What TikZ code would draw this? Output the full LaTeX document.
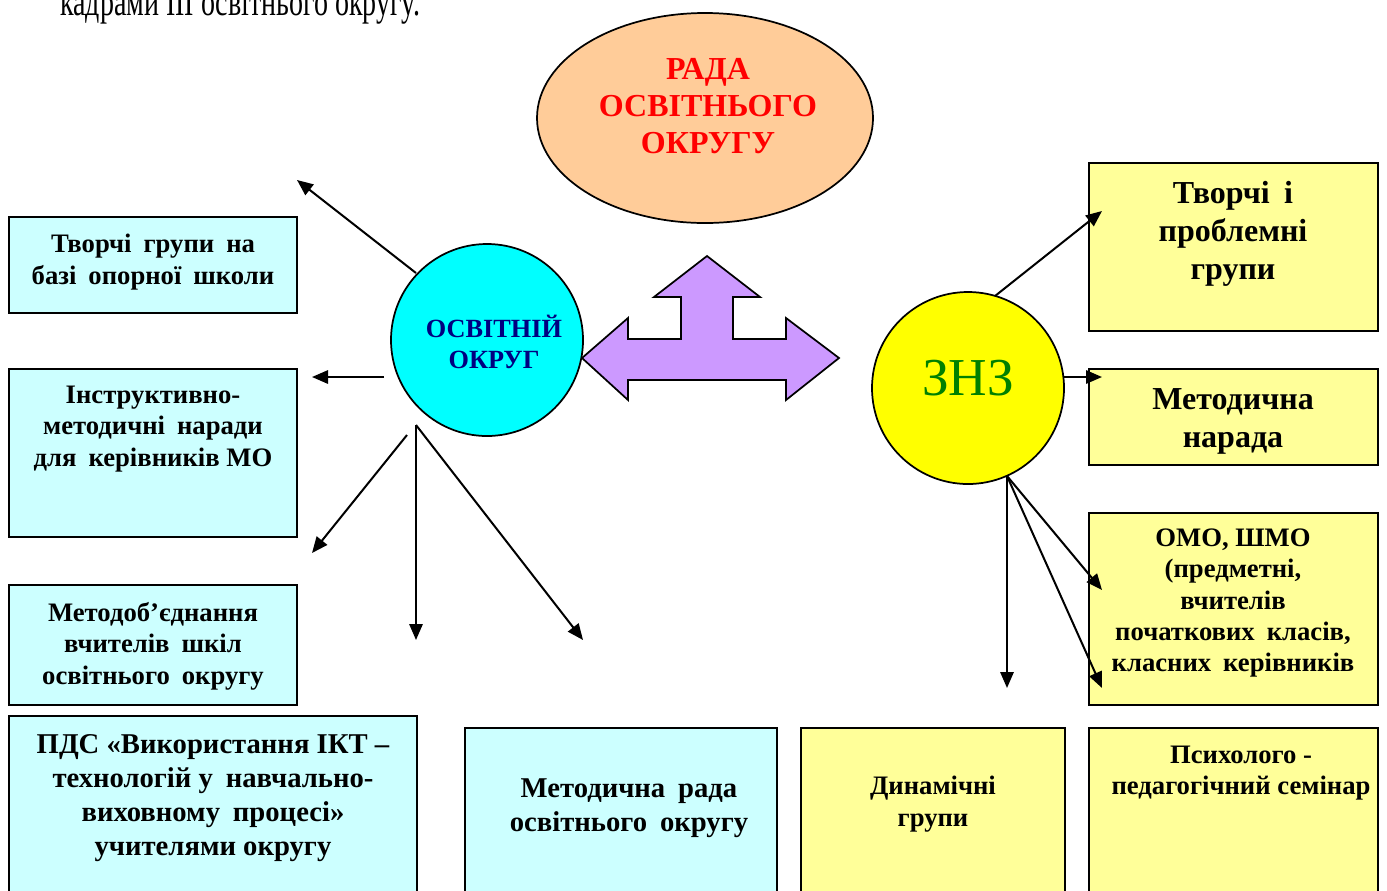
\documentclass[tikz,border=0pt]{standalone}
\usepackage{fontspec}
\setmainfont{Liberation Serif}
\usetikzlibrary{arrows.meta,shapes.geometric}
\definecolor{peach}{HTML}{FFCC99}
\definecolor{cyanc}{HTML}{00FFFF}
\definecolor{lblue}{HTML}{CCFFFF}
\definecolor{lyel}{HTML}{FFFF99}
\definecolor{yelc}{HTML}{FFFF00}
\definecolor{purp}{HTML}{CC99FF}
\definecolor{navyc}{HTML}{000080}
\definecolor{greenc}{HTML}{008000}
\newcommand{\gp}{\hspace{0.45em}}
\begin{document}
\begin{tikzpicture}[x=0.75pt,y=-0.75pt,
  bluebox/.style={draw=black,line width=1.3pt,fill=lblue,inner sep=0pt},
  yelbox/.style={draw=black,line width=1.3pt,fill=lyel,inner sep=0pt},
  txt/.style={align=center,font=\bfseries\fontsize{20}{23.5}\selectfont,inner sep=0pt},
  midtxt/.style={align=center,font=\bfseries\fontsize{21.5}{25.5}\selectfont,inner sep=0pt},
  bigtxt/.style={align=center,font=\bfseries\fontsize{24}{28.5}\selectfont,inner sep=0pt},
  conn/.style={line width=1.5pt,-{Triangle[length=12pt,width=10pt]}}]
\useasboundingbox (0,0) rectangle (1387,890);
\clip (0,0) rectangle (1387,890);
\fill[white] (0,0) rectangle (1387,890);

% top text
\node[anchor=base west,inner sep=0pt,font=\fontsize{21}{24}\selectfont] (top) at (60,15) {\scalebox{1}[1.45]{кадрами ІІІ освітнього округу.}};

% ellipse
\node[ellipse,draw=black,line width=1.3pt,fill=peach,minimum width=252pt,minimum height=157.5pt,inner sep=0pt] (rada) at (705,118) {};
\node[align=center,text=red,font=\bfseries\fontsize{24}{27.5}\selectfont,inner sep=0pt] (radat) at (708,106) {РАДА\\ОСВІТНЬОГО\\ОКРУГУ};

% purple arrow
\draw[line width=1.3pt,fill=purp,line join=miter]
 (582,358) -- (628,318) -- (628,339) -- (681,339) -- (681,297) -- (654,297) -- (707,256)
 -- (760,297) -- (733,297) -- (733,339) -- (786,339) -- (786,318) -- (839,358)
 -- (786,400) -- (786,380) -- (628,380) -- (628,400) -- cycle;

% circles
\node[circle,draw=black,line width=1.3pt,fill=cyanc,minimum size=144pt,inner sep=0pt] (ok) at (487,340) {};
\node[align=center,text=navyc,font=\bfseries\fontsize{19.7}{23.5}\selectfont,inner sep=0pt] (okt) at (494,342) {ОСВІТНІЙ\\ОКРУГ};
\node[circle,draw=black,line width=1.3pt,fill=yelc,minimum size=144pt,inner sep=0pt] (znz) at (968,388) {};
\node[text=greenc,font=\fontsize{40}{44}\selectfont,inner sep=0pt] (znzt) at (968,378) {ЗНЗ};

% blue boxes
\node[bluebox,minimum width=216pt,minimum height=72pt] (b1) at (153,265) {};
\node[txt] (t1) at (153,262) {Творчі\gp групи\gp на\\базі\gp опорної\gp школи};
\node[bluebox,minimum width=216pt,minimum height=126pt] (b2) at (153,453) {};
\node[txt] (t2) at (153,429) {Інструктивно-\\методичні\gp наради\\для\gp керівників МО};
\node[bluebox,minimum width=216pt,minimum height=90pt] (b3) at (153,645) {};
\node[txt] (t3) at (153,646) {Методоб’єднання\\вчителів\gp шкіл\\освітнього\gp округу};
\node[bluebox,minimum width=306pt,minimum height=138pt] (b4) at (213,808) {};
\node[midtxt] (t4) at (213,798) {ПДС «Використання ІКТ –\\технологій у\gp навчально-\\виховному\gp процесі»\\учителями округу};
\node[bluebox,minimum width=234pt,minimum height=129pt] (b5) at (621,814) {};
\node[midtxt] (t5) at (629,808) {Методична\gp рада\\освітнього\gp округу};

% yellow boxes
\node[yelbox,minimum width=216.75pt,minimum height=126pt] (y1) at (1233.5,247) {};
\node[bigtxt] (u1) at (1233,234) {Творчі\gp і\\проблемні\\групи};
\node[yelbox,minimum width=216.75pt,minimum height=72pt] (y2) at (1233.5,417) {};
\node[bigtxt] (u2) at (1233,421) {Методична\\нарада};
\node[yelbox,minimum width=216.75pt,minimum height=144pt] (y3) at (1233.5,609) {};
\node[txt] (u3) at (1233,603) {ОМО, ШМО\\(предметні,\\вчителів\\початкових\gp класів,\\класних\gp керівників};
\node[yelbox,minimum width=198pt,minimum height=129pt] (y4) at (933,814) {};
\node[txt] (u4) at (933,804) {Динамічні\\групи};
\node[yelbox,minimum width=216.75pt,minimum height=129pt] (y5) at (1233.5,814) {};
\node[txt] (u5) at (1241,773) {Психолого -\\педагогічний семінар};

% free ends / starts
\coordinate (s1) at (416,273);
\coordinate (e1) at (297,180);
\coordinate (s2) at (384,377);
\coordinate (e2) at (312,377);
\coordinate (s3) at (407,435);
\coordinate (e3) at (312,553);
\coordinate (s4) at (416,425);
\coordinate (e4) at (416,640);
\coordinate (e5) at (583,640);
\coordinate (z1) at (995,296);
\coordinate (f1) at (1102,211);
\coordinate (z2) at (1064,377);
\coordinate (f2) at (1102,377);
\coordinate (z3) at (1007,476);
\coordinate (f3) at (1007,688);
\coordinate (f4) at (1102,590);
\coordinate (f5) at (1102,688);

\draw[conn] (s1) -- (e1);
\draw[conn] (s2) -- (e2);
\draw[conn] (s3) -- (e3);
\draw[conn] (s4) -- (e4);
\draw[conn] (s4) -- (e5);
\draw[conn] (z1) -- (f1);
\draw[conn] (z2) -- (f2);
\draw[conn] (z3) -- (f3);
\draw[conn] (z3) -- (f4);
\draw[conn] (z3) -- (f5);
\end{tikzpicture}
\end{document}
